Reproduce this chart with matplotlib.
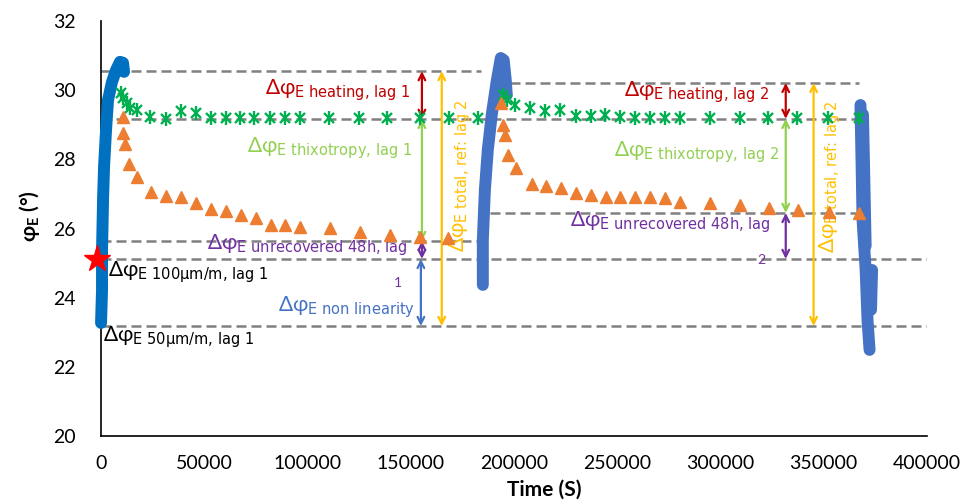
import matplotlib
matplotlib.use('Agg')
import matplotlib.pyplot as plt

plt.rcParams['font.family'] = ['Lato', 'DejaVu Sans']
plt.rcParams['mathtext.default'] = 'regular'

# ---- data ----
# blue strain curves (time s, phi_E deg)
load1_t = [0, 480, 480, 970, 1450, 2420, 3390, 5320, 7260, 9200, 10650, 11130]
load1_phi = [23.27, 24.23, 25.38, 26.83, 27.78, 28.85, 29.72, 30.24, 30.58, 30.82, 30.79, 30.53]
load2_t = [184900, 184900, 185900, 187300, 189200, 191700, 193600, 195000, 196000, 196500]
load2_phi = [24.37, 25.67, 27.12, 28.27, 29.28, 30.29, 30.93, 30.87, 30.29, 29.86]
load3a_t = [367800, 368300, 368800, 370300, 371200, 372200]
load3a_phi = [29.57, 27.98, 26.25, 24.80, 23.36, 22.49]
load3b_t = [369000, 369800, 370300]
load3b_phi = [29.3, 27.0, 25.5]
load3c_t = [373400, 372900]
load3c_phi = [24.80, 23.65]

# green asterisks (rest 1 / rest 2)
g1_t = [9500, 10800, 12400, 14000, 17300, 23700, 31500, 38600, 45800, 53200, 60400, 67300,
        74100, 81800, 89100, 96300, 110500, 125000, 138600, 154400, 168600, 182600]
g1_phi = [29.91, 29.77, 29.62, 29.49, 29.43, 29.23, 29.17, 29.41, 29.35, 29.19, 29.19, 29.19,
          29.19, 29.19, 29.19, 29.19, 29.19, 29.19, 29.19, 29.19, 29.19, 29.19]
g2_t = [194700, 196400, 200400, 207600, 215200, 222400, 230000, 237100, 244200, 251200,
        258500, 265700, 273000, 280200, 294900, 309300, 323000, 337100, 352000, 366900]
g2_phi = [29.86, 29.72, 29.57, 29.48, 29.40, 29.44, 29.25, 29.25, 29.28, 29.23,
          29.21, 29.20, 29.20, 29.20, 29.21, 29.20, 29.20, 29.21, 29.19, 29.19]

# orange triangles
o1_t = [10800, 10800, 11600, 13550, 17300, 24200, 31500, 38700, 46000, 53200, 60500,
        67800, 75000, 82300, 89100, 96300, 110800, 125400, 139900, 154400, 167900]
o1_phi = [29.23, 28.75, 28.45, 27.87, 27.50, 27.06, 26.94, 26.91, 26.75, 26.57, 26.51,
          26.39, 26.31, 26.10, 26.10, 26.05, 26.01, 25.91, 25.82, 25.76, 25.72]
o2_t = [193900, 194700, 195500, 197000, 201200, 208500, 215400, 222800, 229900, 237100, 244400,
        251200, 258500, 265700, 273000, 280500, 295000, 309300, 323300, 337300, 352500, 366900]
o2_phi = [29.62, 28.99, 28.71, 28.13, 27.75, 27.29, 27.23, 27.17, 27.04, 26.97, 26.92,
          26.91, 26.92, 26.90, 26.88, 26.78, 26.75, 26.68, 26.60, 26.54, 26.49, 26.44]

# dashed reference levels: (level, t start, t end)
ref_levels = [30.55, 29.17, 30.21, 25.64, 25.12, 26.45, 23.18]
ref_start = [0, 0, 197900, 0, 0, 188300, 0]
ref_end = [184000, 367000, 367300, 184000, 400000, 367000, 400000]

# arrows: (t, phi from, phi to, colour)
arr_t = [155400, 155400, 155400, 154900, 165000, 331600, 331600, 331600, 345100]
arr_lo = [29.17, 25.64, 25.12, 23.18, 23.18, 29.17, 26.45, 25.12, 23.18]
arr_hi = [30.55, 29.17, 25.64, 25.12, 30.55, 30.21, 29.17, 26.45, 30.21]
arr_col = ['#C00000', '#92D050', '#7030A0', '#4472C4', '#FFC000',
           '#C00000', '#92D050', '#7030A0', '#FFC000']

yticks = [20, 22, 24, 26, 28, 30, 32]
xticks = [0, 50000, 100000, 150000, 200000, 250000, 300000, 350000, 400000]
xtick_labels = ['0', '50000', '100000', '150000', '200000', '250000', '300000', '350000', '400000']

fig = plt.figure(figsize=(9.66, 5.04), dpi=100)
ax = fig.add_axes([0.1046, 0.1349, 0.855, 0.8234])

for y0, a, b in zip(ref_levels, ref_start, ref_end):
    ax.plot([a, b], [y0, y0], color='#808080', lw=1.8, dashes=(4, 2), zorder=1)

ax.plot(load1_t, load1_phi, color='#0070C0', lw=8.6, solid_capstyle='round',
        solid_joinstyle='round', zorder=4, clip_on=False)
for t, p in [(load2_t, load2_phi), (load3a_t, load3a_phi), (load3b_t, load3b_phi), (load3c_t, load3c_phi)]:
    ax.plot(t, p, color='#4472C4', lw=8.6, solid_capstyle='round', solid_joinstyle='round',
            zorder=4, clip_on=False)

# excel style star marker: cross + vertical bar
for t, p in [(g1_t, g1_phi), (g2_t, g2_phi)]:
    ax.plot(t, p, ls='none', marker='x', ms=7.5, mew=1.7, color='#00B050', zorder=5)
    ax.plot(t, p, ls='none', marker='|', ms=9.5, mew=1.7, color='#00B050', zorder=5)
for t, p in [(o1_t, o1_phi), (o2_t, o2_phi)]:
    ax.plot(t, p, ls='none', marker='^', ms=8, color='#ED7D31', zorder=5)

ax.plot([-2000], [25.12], ls='none', marker='*', ms=20, color='#FF0000', zorder=6, clip_on=False)

for t, lo, hi, c in zip(arr_t, arr_lo, arr_hi, arr_col):
    ax.annotate('', xy=(t, lo), xytext=(t, hi),
                arrowprops=dict(arrowstyle='<->', color=c, lw=1.6, mutation_scale=12,
                                shrinkA=0, shrinkB=0), zorder=3)

fs = 15
ax.text(149600, 29.86, r'Δφ$_{\text{E heating, lag 1}}$', color='#C00000', fontsize=fs, ha='right', va='baseline')
ax.text(150500, 28.18, r'Δφ$_{\text{E thixotropy, lag 1}}$', color='#92D050', fontsize=fs, ha='right', va='baseline')
ax.text(51300, 25.38, r'Δφ$_{\text{E unrecovered 48h, lag}}$', color='#7030A0', fontsize=fs, ha='left', va='baseline')
ax.text(143700, 24.43, '1', color='#7030A0', fontsize=10, ha='center', va='center')
ax.text(152000, 23.59, r'Δφ$_{\text{E non linearity}}$', color='#4472C4', fontsize=fs, ha='right', va='baseline')
ax.text(3400, 24.60, r'Δφ$_{\text{E 100µm/m, lag 1}}$', color='black', fontsize=fs, ha='left', va='baseline')
ax.text(1000, 22.72, r'Δφ$_{\text{E 50µm/m, lag 1}}$', color='black', fontsize=fs, ha='left', va='baseline')
ax.text(323800, 29.80, r'Δφ$_{\text{E heating, lag 2}}$', color='#C00000', fontsize=fs, ha='right', va='baseline')
ax.text(328200, 28.07, r'Δφ$_{\text{E thixotropy, lag 2}}$', color='#92D050', fontsize=fs, ha='right', va='baseline')
ax.text(227000, 26.05, r'Δφ$_{\text{E unrecovered 48h, lag}}$', color='#7030A0', fontsize=fs, ha='left', va='baseline')
ax.text(319900, 25.09, '2', color='#7030A0', fontsize=10, ha='center', va='center')
for tx, ty in [(176200, 25.32), (355300, 25.29)]:
    ax.text(tx, ty, r'Δφ$_{\text{E total, ref: lag 2}}$', color='#FFC000', fontsize=fs,
            rotation=90, rotation_mode='anchor', ha='left', va='baseline')

ax.set_xlim(0, 400000)
ax.set_ylim(20, 32)
ax.set_yticks(yticks)
ax.set_xticks(xticks)
ax.set_xticklabels(xtick_labels)
ax.tick_params(length=0, labelsize=14)
ax.tick_params(axis='y', pad=18)
ax.tick_params(axis='x', pad=14)
for s in ['top', 'right']:
    ax.spines[s].set_visible(False)
for s in ['left', 'bottom']:
    ax.spines[s].set_linewidth(1.2)
    ax.spines[s].set_zorder(2)

ax.set_xlabel('Time (S)', fontsize=15, fontweight='bold', labelpad=2)
ax.xaxis.set_label_coords(0.537, -0.105)
ax.set_ylabel(r'φ$_E$ (°)', fontsize=15, fontweight='bold')
ax.yaxis.set_label_coords(-0.072, 0.53)

fig.savefig('out.png', dpi=100)
